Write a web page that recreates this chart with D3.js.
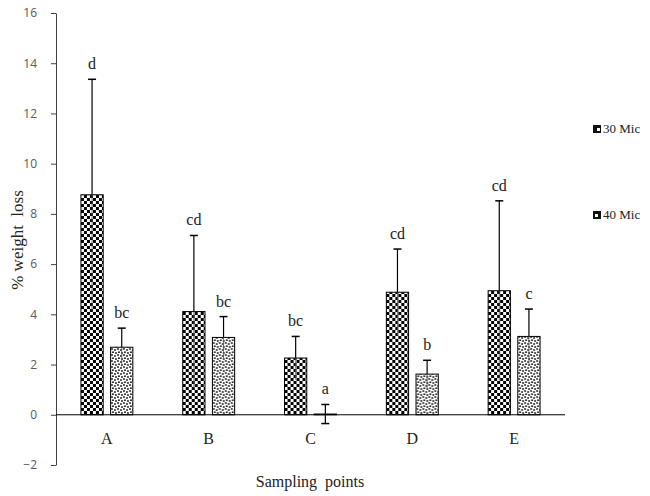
<!DOCTYPE html>
<html>
<head>
<meta charset="utf-8">
<script src="https://cdn.jsdelivr.net/npm/d3@7"></script>
<style>
  body { margin: 0; background: #fff; }
  .tick text { font-family: "Open Sans", "Liberation Sans", sans-serif; fill: #595959; }
  .lbl { font-family: "Liberation Serif", "DejaVu Serif", serif; fill: #222; white-space: pre; }
</style>
</head>
<body>
<div id="chart"></div>
<script>
var categories = ["A", "B", "C", "D", "E"];
var series = ["30 Mic", "40 Mic"];
var values30 = [8.76, 4.11, 2.26, 4.88, 4.94];
var values40 = [2.69, 3.08, 0.03, 1.62, 3.12];
var errors30 = [4.6, 3.03, 0.86, 1.72, 3.58];
var errors40 = [0.76, 0.83, 0.38, 0.55, 1.09];
var letters30 = ["d", "cd", "bc", "cd", "cd"];
var letters40 = ["bc", "bc", "a", "b", "c"];
var yTicks = [-2, 0, 2, 4, 6, 8, 10, 12, 14, 16];

var svgWidth = 650;
var svgHeight = 496;

var svg = d3.select("#chart")
  .append("svg")
  .attr("width", svgWidth)
  .attr("height", svgHeight);

// fill patterns
var defs = svg.append("defs");
var checker = defs.append("pattern")
  .attr("id", "checker")
  .attr("patternUnits", "userSpaceOnUse")
  .attr("width", 6).attr("height", 6);
checker.append("rect").attr("width", 6).attr("height", 6).attr("fill", "#fff");
checker.append("rect").attr("width", 3).attr("height", 3).attr("fill", "#000");
checker.append("rect").attr("x", 3).attr("y", 3).attr("width", 3).attr("height", 3).attr("fill", "#000");

var dots = defs.append("pattern")
  .attr("id", "dots")
  .attr("patternUnits", "userSpaceOnUse")
  .attr("width", 6).attr("height", 6);
dots.append("rect").attr("width", 6).attr("height", 6).attr("fill", "#fff");
[[1, 1], [4, 2], [2, 4.2], [5, 5]].forEach(function(p) {
  dots.append("rect")
    .attr("x", p[0] - 0.8).attr("y", p[1] - 0.8)
    .attr("width", 1.6).attr("height", 1.6)
    .attr("fill", "#000");
});

var fills = ["url(#checker)", "url(#dots)"];

var data = categories.map(function(c, i) {
  return {
    cat: c,
    bars: [
      { s: series[0], v: values30[i], e: errors30[i], t: letters30[i] },
      { s: series[1], v: values40[i], e: errors40[i], t: letters40[i] }
    ]
  };
});

var x0 = d3.scaleBand()
  .domain(categories)
  .range([56, 565]);

var groupW = x0.bandwidth() * 0.51;
var x1 = d3.scaleBand()
  .domain(series)
  .range([0, groupW])
  .paddingInner(0.25);

var y = d3.scaleLinear()
  .domain([-2, 16])
  .range([465, 13]);

// y axis
var leftAxis = d3.axisLeft(y)
  .tickValues(yTicks)
  .tickSize(5)
  .tickSizeOuter(0)
  .tickPadding(14);

var yAxisG = svg.append("g")
  .attr("transform", "translate(56,0)")
  .call(leftAxis);
yAxisG.selectAll(".tick text").attr("font-size", 12);
yAxisG.selectAll("line, path").attr("stroke", "#404040");

// bars
var groups = svg.selectAll(".grp")
  .data(data)
  .enter()
  .append("g")
  .attr("class", "grp")
  .attr("transform", d => `translate(${x0(d.cat) + (x0.bandwidth() - groupW) / 2},0)`);

groups.selectAll("rect")
  .data(d => d.bars)
  .enter()
  .append("rect")
  .attr("x", d => x1(d.s))
  .attr("y", d => y(Math.max(0, d.v)))
  .attr("width", x1.bandwidth())
  .attr("height", d => Math.abs(y(d.v) - y(0)))
  .attr("fill", (d, i) => fills[i])
  .attr("stroke", "#000")
  .attr("stroke-width", 1);

// x axis line
svg.append("line")
  .attr("x1", 56).attr("x2", 565)
  .attr("y1", y(0)).attr("y2", y(0))
  .attr("stroke", "#000")
  .attr("stroke-width", 1);

// error bars (lower half is faint over the pattern)
var errG = groups.selectAll(".err")
  .data(d => d.bars)
  .enter()
  .append("g")
  .attr("class", "err")
  .attr("transform", d => `translate(${x1(d.s) + x1.bandwidth() / 2},0)`);

errG.append("line")
  .attr("y1", d => y(d.v))
  .attr("y2", d => y(d.v + d.e))
  .attr("stroke", "#000")
  .attr("stroke-width", 1.2);
errG.append("line")
  .attr("y1", d => y(d.v - d.e))
  .attr("y2", d => y(d.v))
  .attr("stroke", "#555")
  .attr("stroke-width", 0.8);
errG.append("line")
  .attr("x1", -4).attr("x2", 4)
  .attr("y1", d => y(d.v + d.e))
  .attr("y2", d => y(d.v + d.e))
  .attr("stroke", "#000")
  .attr("stroke-width", 1.5);
errG.filter(d => d.v - d.e < 0.5).append("line")
  .attr("x1", -4).attr("x2", 4)
  .attr("y1", d => y(d.v - d.e))
  .attr("y2", d => y(d.v - d.e))
  .attr("stroke", "#000")
  .attr("stroke-width", 1.5);
errG.filter(d => d.v - d.e < 0.5).select("line:nth-child(2)")
  .attr("stroke", "#000").attr("stroke-width", 1.2);

// significance letters
errG.append("text")
  .attr("class", "lbl")
  .attr("text-anchor", "middle")
  .attr("y", d => y(d.v + d.e) - 10)
  .attr("font-size", 16)
  .text(d => d.t);

// category labels
svg.selectAll(".catlbl")
  .data(categories)
  .enter()
  .append("text")
  .attr("class", "lbl")
  .attr("text-anchor", "middle")
  .attr("x", d => x0(d) + x0.bandwidth() / 2)
  .attr("y", 444)
  .attr("font-size", 16)
  .text(d => d);

// axis titles
svg.append("text")
  .attr("class", "lbl")
  .attr("text-anchor", "middle")
  .attr("x", 310)
  .attr("y", 487)
  .attr("font-size", 16)
  .text("Sampling  points");

svg.append("text")
  .attr("class", "lbl")
  .attr("text-anchor", "middle")
  .attr("transform", "translate(23,240) rotate(-90)")
  .attr("font-size", 17)
  .text("% weight  loss");

// legend
var legend = svg.selectAll(".leg")
  .data(series)
  .enter()
  .append("g")
  .attr("class", "leg")
  .attr("transform", (d, i) => `translate(593,${129 + i * 86})`);

legend.append("rect")
  .attr("x", 0).attr("y", -4)
  .attr("width", 8).attr("height", 8)
  .attr("fill", "#111");
legend.append("rect")
  .attr("x", (d, i) => i === 0 ? 4 : 2).attr("y", -1)
  .attr("width", 3).attr("height", 3)
  .attr("fill", "#fff");
legend.append("text")
  .attr("class", "lbl")
  .attr("x", 10)
  .attr("y", 4)
  .attr("font-size", 13)
  .text(d => d);
</script>
</body>
</html>
